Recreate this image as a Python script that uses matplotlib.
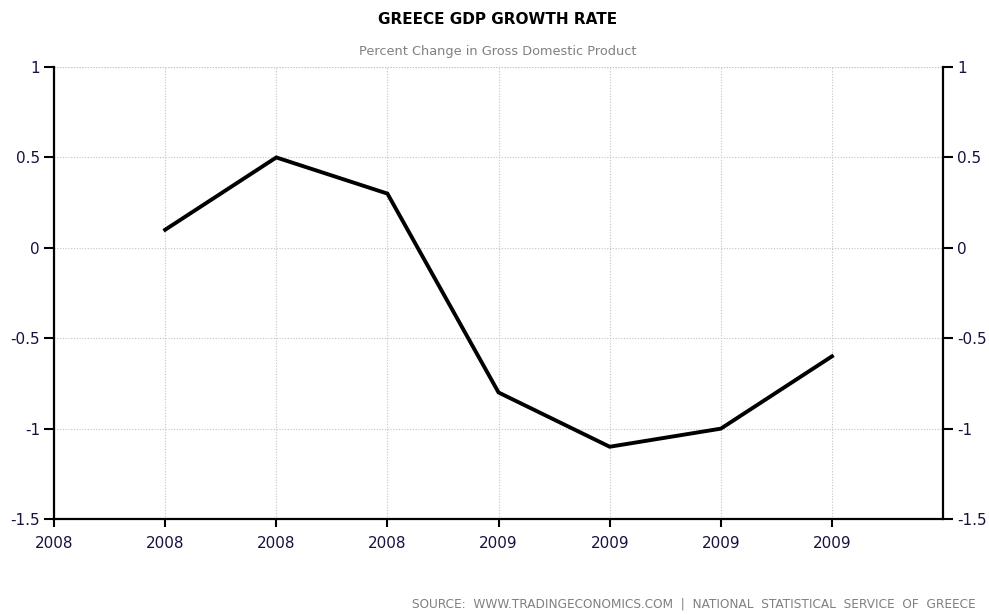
import matplotlib.pyplot as plt

# quarterly gdp growth, percent change
x_pos = [1, 2, 3, 4, 5, 6, 7]
growth = [0.1, 0.5, 0.3, -0.8, -1.1, -1.0, -0.6]

tick_pos = [0, 1, 2, 3, 4, 5, 6, 7]
tick_labels = ["2008", "2008", "2008", "2008", "2009", "2009", "2009", "2009"]
y_ticks = [1, 0.5, 0, -0.5, -1, -1.5]
y_labels = ["1", "0.5", "0", "-0.5", "-1", "-1.5"]

plt.rcParams["font.family"] = ["DejaVu Sans"]

fig = plt.figure(figsize=(9.89, 6.15), dpi=100)
ax = fig.add_axes([0.0546, 0.156, 0.899, 0.735])

ax.plot(x_pos, growth, color="black", linewidth=2.8, solid_joinstyle="miter")

ax.set_xlim(0, 8)
ax.set_ylim(-1.5, 1)
ax.set_xticks(tick_pos)
ax.set_xticklabels(tick_labels)
ax.set_yticks(y_ticks)
ax.set_yticklabels(y_labels)

ax.grid(True, color="#c4c4c4", linestyle=(0, (1, 1.5)), linewidth=0.8)
ax.spines["top"].set_visible(False)
for s in ["left", "right", "bottom"]:
    ax.spines[s].set_linewidth(1.6)
    ax.spines[s].set_color("black")

ax.tick_params(axis="both", labelsize=11, colors="black", width=1.5, length=7,
               labelcolor="#1a1040")
ax.tick_params(axis="y", left=True, right=True, labelleft=True, labelright=True, pad=3)
ax.tick_params(axis="x", length=6, pad=6)

ax.axhline(1, color="#c4c4c4", linestyle=(0, (1, 1.5)), linewidth=0.8)

fig.text(0.503, 0.968, "GREECE GDP GROWTH RATE", ha="center", va="center",
         fontsize=11, fontweight="bold", color="black")
fig.text(0.503, 0.917, "Percent Change in Gross Domestic Product", ha="center",
         va="center", fontsize=9.3, color="#808080")
fig.text(0.986, 0.018, "SOURCE:  WWW.TRADINGECONOMICS.COM  |  NATIONAL  STATISTICAL  SERVICE  OF  GREECE",
         ha="right", va="center", fontsize=8.7, color="#808080")

fig.savefig("out.png", dpi=100)
